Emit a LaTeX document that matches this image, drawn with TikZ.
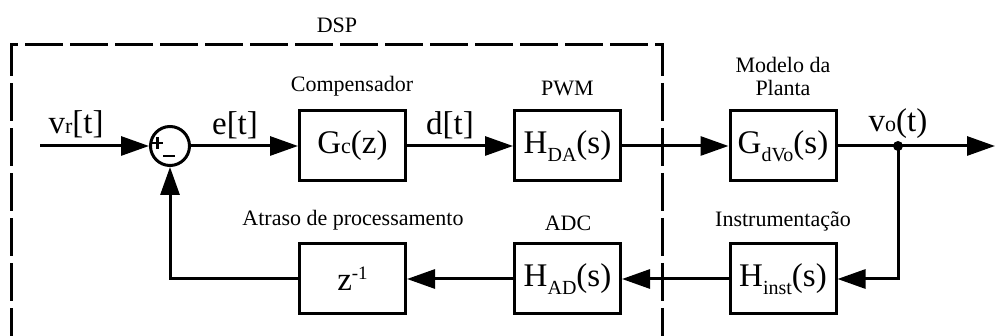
\documentclass[tikz,border=0pt]{standalone}
\usepackage{fontspec}
\setmainfont{Liberation Serif}
\usetikzlibrary{arrows.meta}
\newcommand{\smsub}[1]{{\fontsize{22}{22}\selectfont #1}}
\newcommand{\losub}[1]{\raisebox{-8pt}{\fontsize{20}{20}\selectfont #1}}
\newcommand{\hisup}[1]{\raisebox{11pt}{\fontsize{19}{19}\selectfont #1}}
\begin{document}
\begin{tikzpicture}[x=1pt,y=-1pt,
  blk/.style={draw, line width=3pt, minimum width=106pt, minimum height=70pt, inner sep=0pt, font=\fontsize{33}{33}\selectfont},
  lbl/.style={anchor=base, inner sep=0pt, font=\fontsize{22}{22}\selectfont},
  sig/.style={anchor=base, inner sep=0pt, font=\fontsize{33}{33}\selectfont},
  con/.style={line width=3pt, -{Triangle[length=28pt,width=19pt]}},
  wire/.style={line width=3pt}]
\useasboundingbox (0,0) rectangle (996,336);
% DSP dashed frame
\draw[line width=3pt, dash pattern=on 38pt off 7pt, dash phase=10pt] (11,336) -- (11,45) -- (662,45) -- (662,336);
\node[lbl] (dsp) at (337,33) {DSP};
% blocks
\node[circle, draw, line width=3pt, minimum size=39pt, inner sep=0pt] (sum) at (170,146) {};
\draw[line width=2.5pt] ([shift={(-18,-3)}]sum.center) -- ([shift={(-7,-3)}]sum.center);
\draw[line width=2.5pt] ([shift={(-12.5,-9)}]sum.center) -- ([shift={(-12.5,3)}]sum.center);
\draw[line width=2.5pt] ([shift={(-7,10)}]sum.center) -- ([shift={(5,10)}]sum.center);
\node[blk] (gc) at (352.5,146) {G\smsub{c}(z)};
\node[blk] (hda) at (567.5,146) {H\losub{DA}(s)};
\node[blk] (gdvo) at (783,146) {G\losub{dVo}(s)};
\node[blk] (zinv) at (352.5,279) {z\hisup{-1}};
\node[blk] (had) at (567.5,279) {H\losub{AD}(s)};
\node[blk] (hinst) at (783,279) {H\losub{inst}(s)};
% labels
\node[lbl] (lc) at (352,92) {Compensador};
\node[lbl] (lp) at (567.5,96) {PWM};
\node[lbl] (lm1) at (783,73) {Modelo da};
\node[lbl] (lm2) at (783,96) {Planta};
\node[lbl] (li) at (783,227) {Instrumentação};
\node[lbl] (la) at (353,226) {Atraso de processamento};
\node[lbl] (ladc) at (568,231) {ADC};
\node[sig] (svr) at (76,134) {v\smsub{r}[t]};
\node[sig] (se) at (235,135) {e[t]};
\node[sig] (sd) at (450,135) {d[t]};
\node[sig] (svo) at (898,132) {v\smsub{o}(t)};
% connectors
\coordinate (in) at (40,146);
\coordinate (out) at (995,146);
\coordinate (tap) at (898,146);
\draw[con] (in) -- (sum.west);
\draw[con] (sum.east) -- (gc.west);
\draw[con] (gc.east) -- (hda.west);
\draw[con] (hda.east) -- (gdvo.west);
\draw[con] (gdvo.east) -- (out);
\fill (tap) circle (5pt);
\draw[con] (tap) |- (hinst.east);
\draw[con] (hinst.west) -- (had.east);
\draw[con] (had.west) -- (zinv.east);
\draw[con] (zinv.west) -| (sum.south);
\end{tikzpicture}
\end{document}
